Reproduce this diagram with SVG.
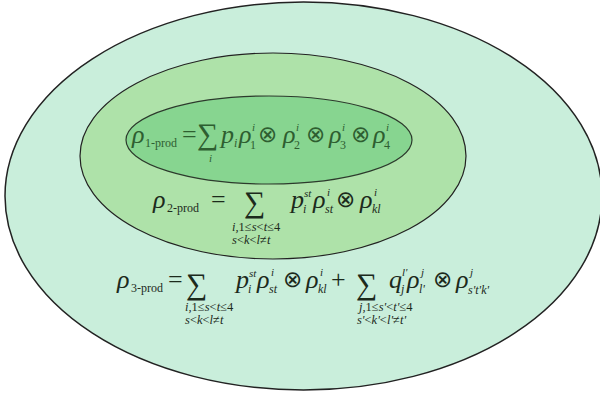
<svg xmlns="http://www.w3.org/2000/svg" width="600" height="393" viewBox="0 0 600 393" font-family="'Liberation Serif', 'DejaVu Serif', serif">
<style>
.t{font-family:"Liberation Serif","DejaVu Serif",serif;fill:#1c2a1c}
.g{fill:#2e5e30}
.it{font-style:italic}
.m{font-size:26px}
.s{font-size:12px}
.sp{font-size:11px}
.ss{font-size:12.5px}
.sum{font-size:30px}
.op{font-size:23px;font-family:"DejaVu Sans","Liberation Serif",sans-serif;font-weight:200}
</style>
<rect width="600" height="393" fill="#ffffff"/>
<g id="three-prod">
<ellipse cx="303.5" cy="196" rx="298.5" ry="194" fill="#c9eedb" stroke="#222" stroke-width="1.5"/>
</g>
<g id="two-prod">
<ellipse cx="273" cy="156" rx="193" ry="103" fill="#aee2a9" stroke="#222" stroke-width="1.2"/>
</g>
<g id="one-prod">
<ellipse cx="269" cy="140" rx="143" ry="44" fill="#87d590" stroke="#2c3a2c" stroke-width="1.2"/>
<g class="t g">
<text class="m it" x="132" y="143">ρ</text>
<text class="s" x="145" y="147">1-prod</text>
<text class="m" x="182" y="143">=</text>
<text class="sum" x="197" y="144">∑</text>
<text class="sp it" x="209" y="162">i</text>
<text class="m it" x="221" y="143">p</text>
<text class="s it" x="234" y="147">i</text>
<text class="m it" x="239" y="143">ρ</text>
<text class="sp it" x="252" y="131">i</text>
<text class="s" x="250" y="149">1</text>
<text class="op" x="258" y="142">⊗</text>
<text class="m it" x="283" y="143">ρ</text>
<text class="sp it" x="296" y="131">i</text>
<text class="s" x="294" y="149">2</text>
<text class="op" x="306" y="142">⊗</text>
<text class="m it" x="329" y="143">ρ</text>
<text class="sp it" x="342" y="131">i</text>
<text class="s" x="340" y="149">3</text>
<text class="op" x="351" y="142">⊗</text>
<text class="m it" x="373" y="143">ρ</text>
<text class="sp it" x="386" y="131">i</text>
<text class="s" x="384" y="149">4</text>
</g>
</g>
<g id="formula-2" class="t">
<text class="m it" x="153" y="208">ρ</text>
<text class="s" x="167" y="212">2-prod</text>
<text class="m" x="211" y="208">=</text>
<text class="sum" x="244" y="212">∑</text>
<text class="ss it" x="232" y="231">i,<tspan font-style="normal">1≤</tspan>s<tspan font-style="normal">&lt;</tspan>t<tspan font-style="normal">≤4</tspan></text>
<text class="ss it" x="232" y="244">s<tspan font-style="normal">&lt;</tspan>k<tspan font-style="normal">&lt;</tspan>l<tspan font-style="normal">≠</tspan>t</text>
<text class="m it" x="291" y="208">p</text>
<text class="sp it" x="304" y="197">st</text>
<text class="s it" x="303" y="213">i</text>
<text class="m it" x="313" y="208">ρ</text>
<text class="sp it" x="327" y="196">i</text>
<text class="s it" x="325" y="213">st</text>
<text class="op" x="336" y="207">⊗</text>
<text class="m it" x="360" y="208">ρ</text>
<text class="sp it" x="374" y="196">i</text>
<text class="s it" x="372" y="213">kl</text>
</g>
<g id="formula-3" class="t">
<text class="m it" x="117" y="288">ρ</text>
<text class="s" x="131" y="292">3-prod</text>
<text class="m" x="168" y="288">=</text>
<text class="sum" x="186" y="294">∑</text>
<text class="ss it" x="185" y="311">i,<tspan font-style="normal">1≤</tspan>s<tspan font-style="normal">&lt;</tspan>t<tspan font-style="normal">≤4</tspan></text>
<text class="ss it" x="185" y="324">s<tspan font-style="normal">&lt;</tspan>k<tspan font-style="normal">&lt;</tspan>l<tspan font-style="normal">≠</tspan>t</text>
<text class="m it" x="236" y="288">p</text>
<text class="sp it" x="249" y="277">st</text>
<text class="s it" x="248" y="293">i</text>
<text class="m it" x="257" y="288">ρ</text>
<text class="sp it" x="271" y="276">i</text>
<text class="s it" x="269" y="293">st</text>
<text class="op" x="283" y="287">⊗</text>
<text class="m it" x="306" y="288">ρ</text>
<text class="sp it" x="320" y="276">i</text>
<text class="s it" x="318" y="293">kl</text>
<text class="m" x="331" y="288">+</text>
<text class="sum" x="356" y="294">∑</text>
<text class="ss it" x="359" y="311">j,<tspan font-style="normal">1≤</tspan>s'<tspan font-style="normal">&lt;</tspan>t'<tspan font-style="normal">≤4</tspan></text>
<text class="ss it" x="357" y="324">s'<tspan font-style="normal">&lt;</tspan>k'<tspan font-style="normal">&lt;</tspan>l'<tspan font-style="normal">≠</tspan>t'</text>
<text class="m it" x="389" y="288">q</text>
<text class="sp it" x="402" y="276">l'</text>
<text class="s it" x="401" y="293">j</text>
<text class="m it" x="407" y="288">ρ</text>
<text class="sp it" x="421" y="276">j</text>
<text class="s it" x="419" y="293">l'</text>
<text class="op" x="433" y="287">⊗</text>
<text class="m it" x="456" y="288">ρ</text>
<text class="sp it" x="470" y="276">j</text>
<text class="s it" x="468" y="294">s't'k'</text>
</g>
</svg>
